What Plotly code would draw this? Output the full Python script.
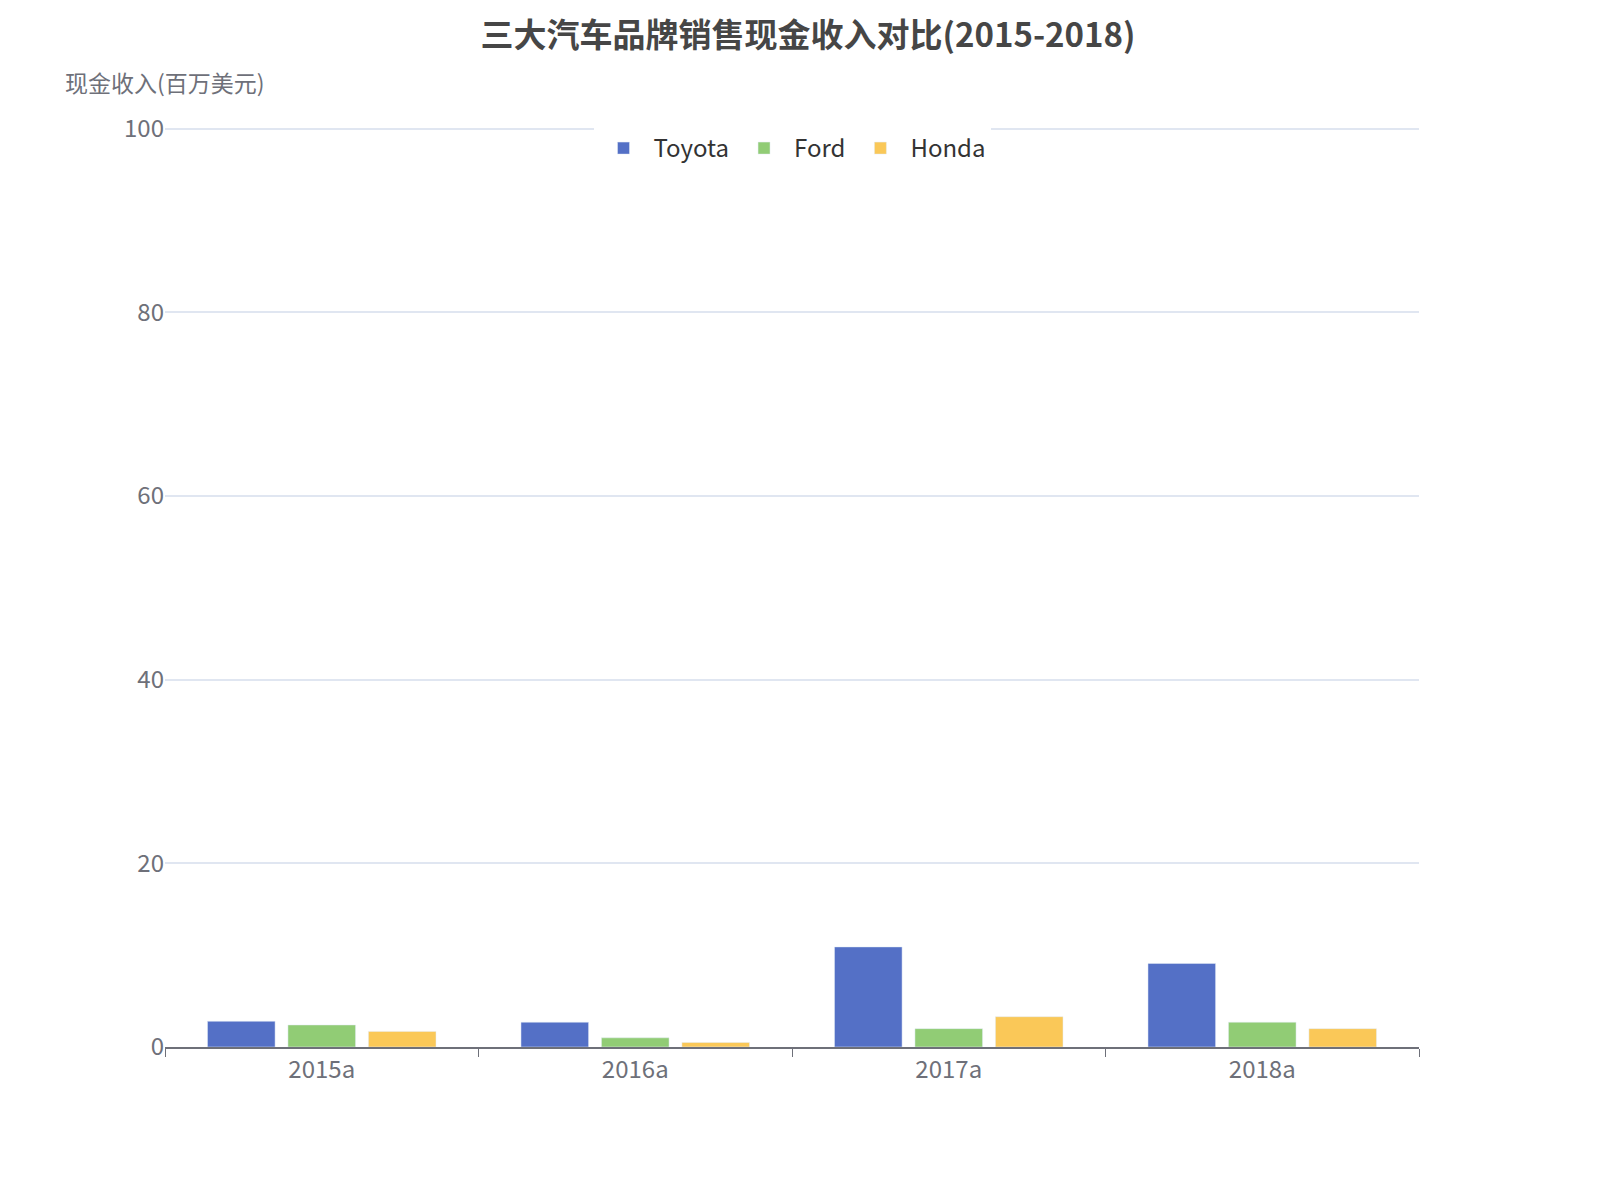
import plotly.graph_objects as go

years = ["2015a", "2016a", "2017a", "2018a"]
toyota = [2.8, 2.7, 10.9, 9.1]
ford = [2.4, 1.0, 2.0, 2.7]
honda = [1.7, 0.5, 3.3, 2.0]
names = ["Toyota", "Ford", "Honda"]
colors = ["#5470c6", "#91cc75", "#fac858"]

fig = go.Figure()
for n, v, c in zip(names, [toyota, ford, honda], colors):
    fig.add_bar(x=years, y=v, name=n, marker_color=c)

font = "Microsoft YaHei, Noto Sans CJK SC, sans-serif"
fig.update_layout(
    width=1600, height=1200, plot_bgcolor="white", paper_bgcolor="white",
    margin=dict(l=157, r=189, t=118, b=161),
    font=dict(family=font, color="#6e7079", size=22),
    title=dict(text="<b>三大汽车品牌销售现金收入对比(2015-2018)</b>", x=0.5, y=0.977,
               xanchor="center", yanchor="middle", font=dict(size=33, color="#464646")),
    barmode="group", bargap=0.23, bargroupgap=0.16,
    legend=dict(orientation="h", x=0.5, xanchor="center", y=1.0, yanchor="top",
                font=dict(size=24, color="#333"), itemwidth=50),
    xaxis=dict(showline=True, linecolor="#6e7079", linewidth=2, ticks="outside",
               tickson="boundaries", ticklen=8, tickcolor="#6e7079", tickfont=dict(size=24)),
    yaxis=dict(range=[0, 100.3], tickvals=[0, 20, 40, 60, 80, 100], gridcolor="#e0e6f1", gridwidth=2,
               zeroline=False, tickfont=dict(size=24), ticksuffix="  "),
    annotations=[dict(text="现金收入(百万美元)", xref="paper", yref="paper", x=-0.081, y=1.048,
                      xanchor="left", yanchor="middle", showarrow=False,
                      font=dict(size=23, color="#6e7079"))],
)
fig.write_html("out.html")
